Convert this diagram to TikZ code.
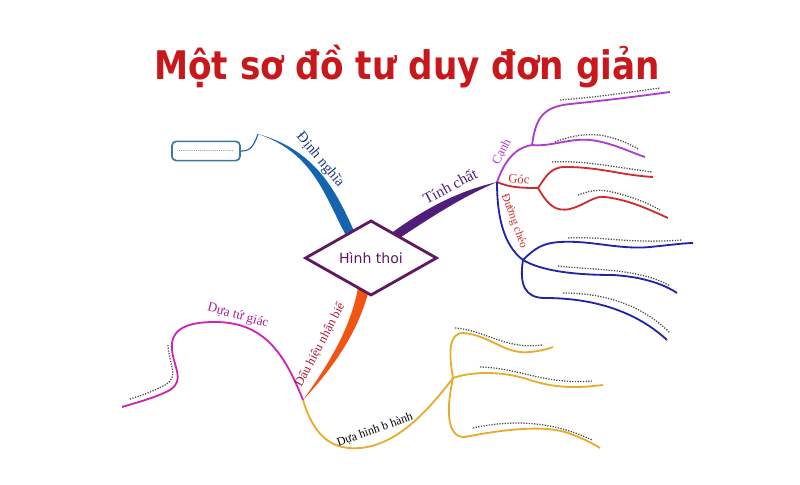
\documentclass[tikz,border=0pt]{standalone}
\usepackage{fontspec}
\setmainfont{Liberation Serif}
\newfontfamily\headfont{DejaVu Sans}
\usetikzlibrary{shapes.geometric, calc, backgrounds, positioning}

\definecolor{titlered}{RGB}{200,24,28}
\definecolor{rhombus}{RGB}{96,24,96}
\definecolor{defblue}{RGB}{20,100,175}
\definecolor{deftext}{RGB}{30,55,130}
\definecolor{boxblue}{RGB}{60,120,160}
\definecolor{propviolet}{RGB}{80,30,120}
\definecolor{sideviolet}{RGB}{175,60,205}
\definecolor{anglered}{RGB}{205,45,45}
\definecolor{diagblue}{RGB}{35,35,170}
\definecolor{signorange}{RGB}{240,85,20}
\definecolor{signtext}{RGB}{175,20,50}
\definecolor{quadmagenta}{RGB}{205,35,185}
\definecolor{quadtext}{RGB}{165,35,150}
\definecolor{pargold}{RGB}{232,172,45}

\tikzset{
  twig/.style={line width=1.3pt},
  leaf/.style={densely dotted, line width=0.9pt, black!70},
  tag/.style={inner sep=1pt, font=\fontsize{#1}{#1}\selectfont},
  tag/.default=9.5,
}

\begin{document}
\begin{tikzpicture}[x=0.025cm, y=-0.025cm]
\useasboundingbox (0,0) rectangle (800,485);
% Title
\node (title) at (407,67) {\headfont\bfseries\fontsize{28}{32}\selectfont\color{titlered}\scalebox{0.87}[1]{Một sơ đồ tư duy đơn giản}};
% Centre
\node [diamond, draw=rhombus, fill=white, line width=2pt, minimum width=3.3cm, minimum height=1.8cm, inner sep=0pt, text=rhombus, font=\headfont\fontsize{10}{12}\selectfont] (ht) at (371,258) {Hình thoi};
\coordinate (dn0) at ($(ht.north)!0.3!(ht.west)$);
\coordinate (tc0) at ($(ht.north)!0.35!(ht.east)$);
\coordinate (so0) at ($(ht.south)!0.12!(ht.west)$);
% Junctions
\coordinate (dntip) at (258,134);
\coordinate (tc) at (497,182);
\coordinate (side) at (532,145);
\coordinate (angle) at (538,188);
\coordinate (diag) at (523,260);
\coordinate (sign) at (303,400);
\coordinate (para) at (453,378);
% Leaf ends
\coordinate (s1) at (670,92);
\coordinate (s2) at (645,157);
\coordinate (g1) at (653,177);
\coordinate (g2) at (668,218);
\coordinate (d1) at (693,243);
\coordinate (d2) at (677,293);
\coordinate (d3) at (667,340);
\coordinate (q1) at (122,407);
\coordinate (p1) at (553,347);
\coordinate (p2) at (603,385);
\coordinate (p3) at (600,448);

\begin{scope}[on background layer]
% Dinh nghia
\fill [defblue] ($(dn0)+(-4,6)$) .. controls (326,200) and (315,153) .. (dntip) .. controls (319,151) and (338,196) .. ($(dn0)+(5,4)$) -- cycle;
% Tinh chat
\fill [propviolet] ($(tc0)+(-4,1)$) .. controls (423,210) and (455,192) .. (tc) .. controls (460,198) and (430,218) .. ($(tc0)+(4,6)$) -- cycle;
% Dau hieu nhan biet
\fill [signorange] ($(so0)+(-5,-4)$) .. controls (350,330) and (328,365) .. (sign) .. controls (334,367) and (358,332) .. ($(so0)+(6,-2)$) -- cycle;
\end{scope}

\node [draw=boxblue, line width=1.2pt, rounded corners=3pt, minimum width=1.7cm, minimum height=0.48cm, text=black!60, font=\fontsize{6}{6}\selectfont] (bx) at (206,151) {..........................};
\draw [defblue, line width=0.8pt] (bx.east) .. controls (252,152) and (255,142) .. (dntip);

% Canh
\draw [twig, sideviolet] (tc) .. controls (505,160) and (515,148) .. (side);
\draw [twig, sideviolet] (side) .. controls (536,115) and (545,107) .. (570,104) .. controls (610,100) and (640,96) .. (s1);
\draw [twig, sideviolet] (side) .. controls (550,147) and (570,138) .. (590,140) .. controls (610,142) and (630,152) .. (s2);
\draw [leaf] (560,100) .. controls (600,97) and (630,92) .. (660,88);
\draw [leaf] (555,142) .. controls (572,135) and (590,133) .. (605,136) .. controls (618,139) and (628,143) .. (638,149);
% Goc
\draw [twig, anglered] (tc) .. controls (510,188) and (525,188) .. (angle);
\draw [twig, anglered] (angle) .. controls (545,178) and (550,167) .. (565,167) .. controls (600,167) and (620,175) .. (g1);
\draw [twig, anglered] (angle) .. controls (548,205) and (555,212) .. (570,209) .. controls (585,205) and (595,195) .. (605,197) .. controls (630,200) and (650,210) .. (g2);
\draw [leaf] (552,162) .. controls (580,160) and (615,167) .. (652,172);
\draw [leaf] (578,195) .. controls (592,190) and (600,189) .. (612,192) .. controls (630,196) and (648,203) .. (660,210);
% Duong cheo
\draw [twig, diagblue] (tc) .. controls (497,215) and (503,245) .. (diag);
\draw [twig, diagblue] (diag) .. controls (535,248) and (543,243) .. (560,242) .. controls (590,240) and (620,250) .. (650,247) .. controls (670,245) and (685,243) .. (d1);
\draw [twig, diagblue] (diag) .. controls (540,270) and (570,275) .. (613,275) .. controls (645,277) and (665,285) .. (d2);
\draw [twig, diagblue] (diag) .. controls (519,285) and (525,298) .. (545,298) .. controls (600,298) and (640,315) .. (d3);
\draw [leaf] (568,238) .. controls (600,236) and (630,244) .. (682,240);
\draw [leaf] (558,266) .. controls (590,270) and (640,268) .. (670,286);
\draw [leaf] (563,293) .. controls (610,293) and (645,308) .. (670,333);
% Dua tu giac
\draw [twig, quadmagenta] (sign) .. controls (285,355) and (265,322) .. (215,322) .. controls (185,322) and (170,330) .. (172,350) .. controls (174,368) and (185,380) .. (170,390) .. controls (155,398) and (135,403) .. (q1);
\draw [leaf] (168,345) .. controls (169,366) and (180,376) .. (165,385) .. controls (152,392) and (140,396) .. (130,399);
% Dua hinh binh hanh
\draw [twig, pargold] (sign) .. controls (315,440) and (335,450) .. (360,448) .. controls (395,445) and (425,415) .. (para);
\draw [twig, pargold] (para) .. controls (449,355) and (448,333) .. (463,333) .. controls (490,335) and (505,355) .. (530,352) .. controls (540,351) and (548,349) .. (p1);
\draw [twig, pargold] (para) .. controls (470,372) and (500,370) .. (530,380) .. controls (560,390) and (585,387) .. (p2);
\draw [twig, pargold] (para) .. controls (447,405) and (445,438) .. (465,437) .. controls (500,430) and (540,425) .. (565,432) .. controls (580,437) and (592,443) .. (p3);
\draw [leaf] (455,328) .. controls (485,330) and (505,350) .. (542,345);
\draw [leaf] (480,367) .. controls (520,368) and (545,385) .. (592,381);
\draw [leaf] (473,428) .. controls (510,420) and (550,420) .. (592,440);

% Labels
\node [tag=10.5, rotate=-50, text=deftext] (lbdef) at (320,160) {Định nghĩa};
\node [tag=11, rotate=28, text=propviolet] (lbprop) at (450,186) {Tính chất};
\node [tag=9, rotate=62, text=sideviolet] (lbside) at (502,152) {Cạnh};
\node [tag=9, rotate=-5, text=anglered] (lbangle) at (519,179) {Góc};
\node [tag=8.2, rotate=-70, text=anglered] (lbdiag) at (514,221) {Đường chéo};
\node [tag=9, rotate=62, text=signtext] (lbsign) at (320,345) {Dấu hiệu nhận biế};
\node [tag=9.5, rotate=-15, text=quadtext] (lbquad) at (238,316) {Dựa tứ giác};
\node [tag=8.5, rotate=20, text=black] (lbpara) at (375,430) {Dựa hình b hành};
\end{tikzpicture}
\end{document}
